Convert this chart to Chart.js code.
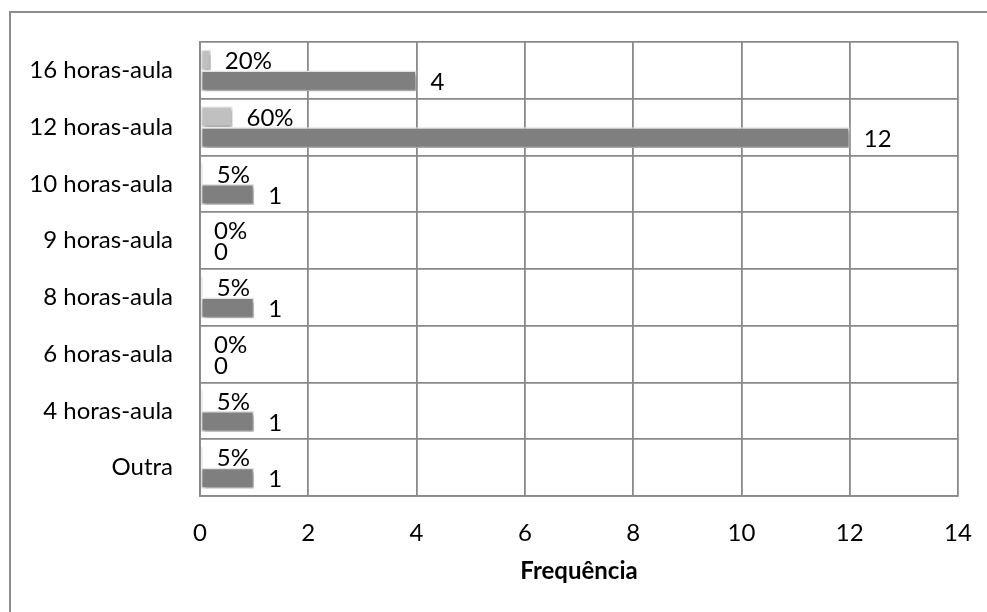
<!DOCTYPE html>
<html>
<head>
<meta charset="utf-8">
<script src="https://cdn.jsdelivr.net/npm/chart.js@4/dist/chart.umd.min.js"></script>
<style>
  html, body { margin: 0; padding: 0; background: #ffffff; }
  #wrap { position: relative; width: 987px; height: 612px; }
</style>
</head>
<body>
<div id="wrap"><canvas id="chart" width="987" height="612"></canvas></div>
<script>
// Carga horária: frequência de respostas e percentual correspondente
const categories = ['16 horas-aula', '12 horas-aula', '10 horas-aula', '9 horas-aula',
                    '8 horas-aula', '6 horas-aula', '4 horas-aula', 'Outra'];
const percentValues = [0.20, 0.60, 0.05, 0, 0.05, 0, 0.05, 0.05];
const frequencyValues = [4, 12, 1, 0, 1, 0, 1, 1];
const xTicks = [0, 2, 4, 6, 8, 10, 12, 14];
const xTitle = 'Frequência';

const FONT = 'Lato, "DejaVu Sans", sans-serif';
const GRID = '#898989';

// Outer frame of the chart object (only top and left edges fall inside the canvas)
const framePlugin = {
  id: 'frame',
  beforeDraw(chart) {
    const ctx = chart.ctx;
    ctx.save();
    ctx.strokeStyle = '#8d8d8d';
    ctx.lineWidth = 2;
    ctx.strokeRect(10, 12, 1200, 1200);
    ctx.restore();
  }
};

// Soft drop shadow under the bars
const shadowPlugin = {
  id: 'barShadow',
  beforeDatasetDraw(chart) {
    const ctx = chart.ctx;
    ctx.save();
    ctx.shadowColor = 'rgba(0,0,0,0.35)';
    ctx.shadowBlur = 4;
    ctx.shadowOffsetX = 1.5;
    ctx.shadowOffsetY = 2.5;
  },
  afterDatasetDraw(chart) {
    chart.ctx.restore();
  }
};

// Value labels to the right of each bar
const valueLabelPlugin = {
  id: 'valueLabels',
  afterDatasetsDraw(chart) {
    const ctx = chart.ctx;
    ctx.save();
    ctx.font = '24px ' + FONT;
    ctx.fillStyle = '#000000';
    ctx.textAlign = 'left';
    ctx.textBaseline = 'middle';
    chart.data.datasets.forEach((ds, di) => {
      const meta = chart.getDatasetMeta(di);
      meta.data.forEach((el, i) => {
        const v = ds.data[i];
        const text = di === 0 ? Math.round(v * 100) + '%' : String(v);
        ctx.fillText(text, el.x + 14, el.y + 1.5);
      });
    });
    ctx.restore();
  }
};

new Chart(document.getElementById('chart'), {
  type: 'bar',
  data: {
    labels: categories,
    datasets: [
      {
        label: 'Percentual',
        data: percentValues,
        backgroundColor: '#c0c0c0',
        borderColor: '#ededed',
        borderWidth: 1.5,
        borderSkipped: false,
        categoryPercentage: 0.74,
        barPercentage: 0.98
      },
      {
        label: 'Frequência',
        data: frequencyValues,
        backgroundColor: '#7f7f7f',
        borderColor: '#e6e6e6',
        borderWidth: 1.5,
        borderSkipped: false,
        categoryPercentage: 0.74,
        barPercentage: 0.98
      }
    ]
  },
  options: {
    indexAxis: 'y',
    responsive: false,
    animation: false,
    layout: { padding: { top: 42, right: 29, left: 0, bottom: 0 } },
    plugins: {
      legend: { display: false },
      tooltip: { enabled: false }
    },
    scales: {
      x: {
        type: 'linear',
        min: xTicks[0],
        max: xTicks[xTicks.length - 1],
        afterFit(scale) {
          scale.height = 116;
          scale.paddingLeft = 0;
          scale.paddingRight = 0;
        },
        afterBuildTicks(scale) { scale.ticks = xTicks.map(v => ({ value: v })); },
        grid: { color: GRID, lineWidth: 1.8, drawTicks: false },
        border: { color: GRID, width: 1.8 },
        ticks: {
          padding: 23,
          color: '#000000',
          font: { family: FONT, size: 24 }
        },
        title: {
          display: true,
          text: xTitle,
          color: '#000000',
          font: { family: FONT, size: 24, weight: 'bold' },
          padding: { top: 0, bottom: 26 }
        }
      },
      y: {
        type: 'category',
        afterFit(scale) {
          scale.width = 200;
          scale.paddingTop = 0;
          scale.paddingBottom = 0;
        },
        grid: { color: GRID, lineWidth: 1.8, drawTicks: false, offset: true },
        border: { color: GRID, width: 1.8 },
        ticks: {
          padding: 27,
          color: '#000000',
          font: { family: FONT, size: 24 }
        }
      }
    }
  },
  plugins: [framePlugin, shadowPlugin, valueLabelPlugin]
});
</script>
</body>
</html>
